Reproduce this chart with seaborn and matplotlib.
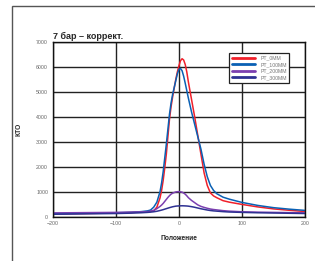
import pandas as pd
import seaborn as sns
import matplotlib.pyplot as plt
from matplotlib.patches import Rectangle

sns.set_theme(style='whitegrid', rc={'grid.color': '#222222', 'grid.linewidth': 1.0,
                                     'axes.edgecolor': '#111111', 'axes.linewidth': 1.0})
plt.rcParams['font.family'] = ['Liberation Sans', 'DejaVu Sans']

# Положение (позиция)
pos = [-200, -150, -100, -75, -60, -50, -45, -40, -35, -30, -27.5, -25, -22.5, -20, -17.5, -15, -12.5,
       -10, -5, -2.5, 0, 2.5, 5, 7.5, 10, 12.5, 15, 20, 25, 30, 35, 40, 45, 50, 55, 60, 70, 80,
       100, 125, 150, 175, 200]

pt_0mm = [110, 125, 145, 165, 190, 195, 210, 235, 380, 750, 1050, 1450, 1950, 2500, 3200, 3900, 4400,
          4800, 5500, 5800, 6050, 6250, 6330, 6280, 6100, 5800, 5400, 4700, 4000, 3250, 2500, 1750, 1250,
          950, 830, 760, 640, 580, 490, 390, 310, 255, 205]
pt_100mm = [120, 135, 155, 175, 200, 230, 265, 380, 580, 1000, 1350, 1800, 2350, 2900, 3500, 4100, 4550,
            4900, 5450, 5720, 5900, 5940, 5850, 5630, 5350, 5050, 4750, 4200, 3700, 3200, 2700, 2100, 1600,
            1250, 1050, 920, 780, 700, 570, 450, 360, 300, 250]
pt_200mm = [150, 160, 170, 180, 190, 200, 220, 250, 320, 410, 465, 530, 610, 690, 770, 840, 900,
            940, 990, 1000, 1000, 995, 980, 945, 900, 835, 760, 650, 560, 470, 410, 370, 335,
            305, 285, 270, 240, 220, 195, 180, 170, 160, 150]
pt_300mm = [95, 110, 125, 140, 155, 170, 180, 195, 215, 245, 262, 280, 300, 320, 340, 360, 378,
            395, 420, 426, 430, 433, 435, 433, 430, 426, 420, 400, 375, 345, 315, 290, 265,
            245, 230, 220, 200, 185, 170, 155, 145, 135, 125]

series = {'PT_0MM': pt_0mm, 'PT_100MM': pt_100mm, 'PT_200MM': pt_200mm, 'PT_300MM': pt_300mm}
df = pd.concat([pd.DataFrame({'pos': pos, 'kto': v, 'name': k}) for k, v in series.items()])

palette = {'PT_0MM': '#f0202a', 'PT_100MM': '#0a60b4', 'PT_200MM': '#7b3fb0', 'PT_300MM': '#2e3192'}

fig = plt.figure(figsize=(3.15, 2.61), dpi=100)
ax = fig.add_axes([0.168, 0.170, 0.800, 0.669])

sns.lineplot(data=df, x='pos', y='kto', hue='name', palette=palette, linewidth=1.1, ax=ax, legend=True)

ax.set_xlim(-200, 200)
ax.set_ylim(0, 7000)
ax.set_xticks([-200, -100, 0, 100, 200])
ax.set_yticks(range(0, 7001, 1000))
ax.tick_params(labelsize=3.8, colors='#666666', length=2, width=0.8, pad=1.5)
ax.tick_params(axis='both', color='#111111')
ax.set_xlabel('Положение', fontsize=4.8, fontweight='bold', labelpad=6)
ax.set_ylabel('КТО', fontsize=4.8, fontweight='bold', labelpad=10)
ax.set_title('7 бар – коррект.', fontsize=6.5, fontweight='bold', loc='left', pad=2)

leg = ax.legend(loc='upper left', bbox_to_anchor=(229 / 315, 1 - 53 / 261), bbox_transform=fig.transFigure,
                fontsize=3.7, handlelength=4.6, handletextpad=1.0, labelspacing=0.3, borderpad=0.5,
                fancybox=False, framealpha=1, edgecolor='#222222', borderaxespad=0)
leg.get_frame().set_linewidth(0.9)
for t in leg.get_texts():
    t.set_color('#777777')
for h in leg.get_lines():
    h.set_linewidth(2.0)

# рамка вокруг рисунка
fig.patches.append(Rectangle((12 / 315, -0.1), 1.2, 1.1 - 6 / 261, transform=fig.transFigure,
                             fill=False, edgecolor='#555555', linewidth=1.0))

fig.savefig('out.png', dpi=100)
